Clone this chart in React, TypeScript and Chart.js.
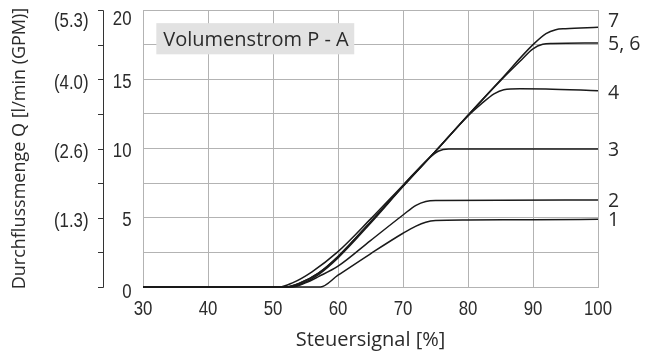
import React, { useEffect, useRef } from "react";
import { Chart, registerables } from "chart.js";

Chart.register(...registerables);

// ---- data ----
const xTickValues = [30, 40, 50, 60, 70, 80, 90, 100];
const qTickValues = [0, 5, 10, 15, 20];
const qTickLabels = ["0", "5", "10", "15", "20"];
const gpmTickValues = [5, 10, 15, 20];
const gpmTickLabels = ["(1.3)", "(2.6)", "(4.0)", "(5.3)"];
const minorTickValues = [0, 2.5, 5, 7.5, 10, 12.5, 15, 17.5, 20];

const curve1X = [30, 57.3, 60, 65, 70, 72, 73.5, 75, 80, 90, 100];
const curve1Y = [0, 0, 0.85, 2.4, 3.88, 4.4, 4.68, 4.8, 4.84, 4.86, 4.89];

const curve2X = [30, 53, 55, 57, 60, 65, 70, 72, 73.5, 75, 85, 100];
const curve2Y = [0, 0, 0.3, 0.75, 1.5, 3.35, 5.2, 5.9, 6.18, 6.25, 6.27, 6.28];

const curve3X = [30, 51, 53, 56, 60, 65, 70, 74, 75.5, 77, 80, 100];
const curve3Y = [0, 0, 0.3, 1.1, 2.55, 4.9, 7.35, 9.3, 9.82, 9.96, 9.97, 9.97];

const curve4X = [30, 52, 54, 57, 60, 65, 70, 75, 80, 82, 84, 85.5, 88, 92, 100];
const curve4Y = [0, 0, 0.25, 1.0, 2.2, 4.7, 7.3, 9.8, 12.35, 13.2, 13.95, 14.25, 14.32, 14.3, 14.17];

const curve56X = [30, 52, 54, 57, 60, 65, 70, 75, 80, 85, 88, 90, 91.5, 93, 100];
const curve56Y = [0, 0, 0.25, 1.0, 2.2, 4.7, 7.3, 9.8, 12.4, 14.9, 16.3, 17.2, 17.52, 17.58, 17.62];

const curve7X = [30, 52.5, 54.5, 57, 60, 65, 70, 75, 80, 85, 90, 92, 93.5, 95, 100];
const curve7Y = [0, 0, 0.25, 0.9, 2.1, 4.6, 7.25, 9.8, 12.4, 14.95, 17.5, 18.3, 18.58, 18.65, 18.75];

const seriesLabels = ["1", "2", "3", "4", "5, 6", "7"];
const seriesX = [curve1X, curve2X, curve3X, curve4X, curve56X, curve7X];
const seriesY = [curve1Y, curve2Y, curve3Y, curve4Y, curve56Y, curve7Y];
const labelOffsets = [0, 0, 0, 1, 0, -7.5];

const annotationText = "Volumenstrom P - A";
const annotationBox = { x0: 32.05, x1: 62.5, yTop: 19.05, yBottom: 16.8 };

const xTitle = "Steuersignal [%]";
const yTitle = "Durchflussmenge Q [l/min (GPM)]";

// ---- styles ----
const NARROW = '"Liberation Sans", Arial, sans-serif';
const NARROW_SIZE = 20.5;
const NARROW_SCALE = 0.82;
const SANS = '"Open Sans", "Noto Sans", sans-serif';
const TEXT = "#2b2b2b";
const GRID = "#b3b3b3";
const LINE = "#1a1a1a";

function narrowText(ctx: CanvasRenderingContext2D, text: string, x: number, y: number, align: CanvasTextAlign) {
  ctx.save();
  ctx.translate(x, y);
  ctx.scale(NARROW_SCALE, 1);
  ctx.font = `${NARROW_SIZE}px ${NARROW}`;
  ctx.textAlign = align;
  ctx.textBaseline = "alphabetic";
  ctx.fillText(text, 0, 0);
  ctx.restore();
}

const decor = {
  id: "decor",
  beforeDatasetsDraw(chart: any) {
    const { ctx, scales } = chart;
    const xs = scales.x, ys = scales.y;
    const l = xs.getPixelForValue(annotationBox.x0);
    const r = xs.getPixelForValue(annotationBox.x1);
    const t = ys.getPixelForValue(annotationBox.yTop);
    const b = ys.getPixelForValue(annotationBox.yBottom);
    ctx.save();
    ctx.fillStyle = "#e2e2e2";
    ctx.fillRect(l, t, r - l, b - t);
    ctx.fillStyle = TEXT;
    ctx.font = `20px ${SANS}`;
    ctx.textAlign = "left";
    ctx.textBaseline = "alphabetic";
    ctx.fillText(annotationText, l + 7, (t + b) / 2 + 0.357 * 20);
    ctx.restore();
  },
  afterDraw(chart: any) {
    const { ctx, scales, chartArea } = chart;
    const xs = scales.x, ys = scales.y;
    ctx.save();
    ctx.fillStyle = TEXT;
    // x tick labels
    xTickValues.forEach((v) => {
      narrowText(ctx, String(v), xs.getPixelForValue(v), chartArea.bottom + 27.5, "center");
    });
    // secondary left axis
    const axX = 103.5;
    ctx.strokeStyle = "#333";
    ctx.lineWidth = 1;
    ctx.beginPath();
    ctx.moveTo(axX, Math.round(ys.getPixelForValue(20)) + 0.5);
    ctx.lineTo(axX, Math.round(ys.getPixelForValue(0)) + 0.5);
    minorTickValues.forEach((v) => {
      const y = Math.round(ys.getPixelForValue(v)) + 0.5;
      ctx.moveTo(axX - 5.5, y);
      ctx.lineTo(axX, y);
    });
    ctx.stroke();

    qTickValues.forEach((v, i) => {
      let y = ys.getPixelForValue(v);
      if (v === 20) y += 8;
      else if (v === 0) y += 3.5;
      else y += 1;
      narrowText(ctx, qTickLabels[i], 131.5, y + 0.358 * NARROW_SIZE, "right");
    });
    gpmTickValues.forEach((v, i) => {
      let y = ys.getPixelForValue(v);
      if (v === 20) y += 10;
      else y += 2;
      narrowText(ctx, gpmTickLabels[i], 88.5, y + 0.358 * NARROW_SIZE, "right");
    });

    // series labels on the right
    ctx.font = `19.5px ${SANS}`;
    ctx.textAlign = "left";
    ctx.textBaseline = "alphabetic";
    seriesY.forEach((ysArr, i) => {
      const last = ysArr[ysArr.length - 1];
      const y = ys.getPixelForValue(last) + labelOffsets[i];
      ctx.fillText(seriesLabels[i], chartArea.right + 10, y + 0.357 * 19.5);
    });

    // axis titles
    ctx.font = `20px ${SANS}`;
    ctx.textAlign = "center";
    ctx.fillText(xTitle, (chartArea.left + chartArea.right) / 2, 345.5);
    ctx.font = `18px ${SANS}`;
    ctx.translate(24.5, (chartArea.top + chartArea.bottom) / 2);
    ctx.rotate(-Math.PI / 2);
    ctx.fillText(yTitle, 0, 0);
    ctx.restore();
  },
};

export default function App() {
  const ref = useRef<HTMLCanvasElement>(null);
  useEffect(() => {
    document.body.style.margin = "0";
    const canvas = ref.current!;
    const datasets = seriesX.map((xs, i) => ({
      label: seriesLabels[i],
      data: xs.map((x, j) => ({ x, y: seriesY[i][j] })),
      borderColor: LINE,
      borderWidth: 1.5,
      pointRadius: 0,
      cubicInterpolationMode: "monotone" as const,
      fill: false,
      clip: 4,
    }));
    const chart = new Chart(canvas, {
      type: "line",
      data: { datasets },
      options: {
        responsive: false,
        animation: false,
        devicePixelRatio: 1,
        layout: { padding: { left: 0, top: 10, right: 48, bottom: 0 } },
        plugins: { legend: { display: false }, tooltip: { enabled: false } },
        scales: {
          x: {
            type: "linear",
            min: 30,
            max: 100,
            afterBuildTicks: (s: any) => {
              s.ticks = xTickValues.map((v) => ({ value: v }));
            },
            afterFit: (s: any) => {
              s.height = 67;
            },
            grid: { color: GRID, lineWidth: 1, drawTicks: false },
            border: { color: GRID, width: 1 },
            ticks: { display: false },
          },
          y: {
            type: "linear",
            min: 0,
            max: 20,
            afterBuildTicks: (s: any) => {
              s.ticks = minorTickValues.map((v) => ({ value: v }));
            },
            afterFit: (s: any) => {
              s.width = 143;
            },
            grid: { color: GRID, lineWidth: 1, drawTicks: false },
            border: { color: GRID, width: 1 },
            ticks: { display: false },
          },
        },
      },
      plugins: [decor],
    });
    return () => chart.destroy();
  }, []);
  return (
    <div style={{ position: "absolute", left: 0, top: 0 }}>
      <canvas ref={ref} width={646} height={354} style={{ display: "block" }} />
    </div>
  );
}
